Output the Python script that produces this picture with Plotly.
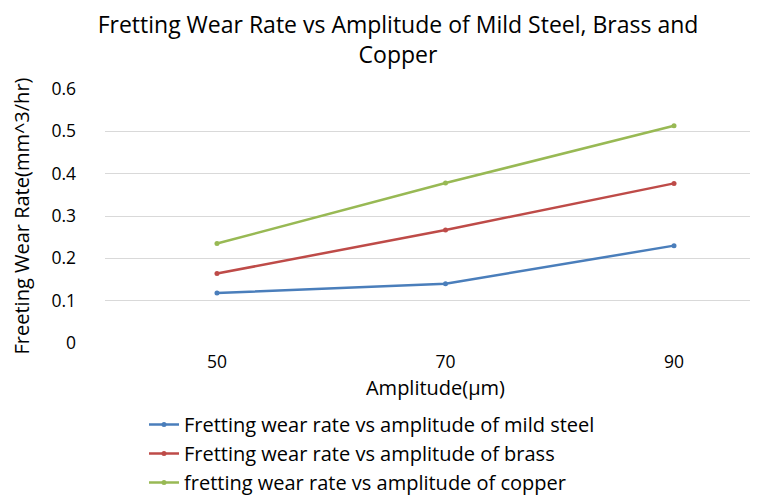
import plotly.graph_objects as go

amplitude = [50, 70, 90]
mild_steel = [0.118, 0.140, 0.230]
brass = [0.164, 0.267, 0.377]
copper = [0.235, 0.378, 0.513]
names = ["Fretting wear rate vs amplitude of mild steel",
         "Fretting wear rate vs amplitude of brass",
         "fretting wear rate vs amplitude of copper"]
colors = ["#4A7EBB", "#BE4B48", "#98B954"]
y_ticks = [0, 0.1, 0.2, 0.3, 0.4, 0.5, 0.6]

FONT = "Open Sans"
L, R, T, B = 97, 0, 81, 166
W, H = 758, 501
pw, ph = W - L - R, H - T - B

fig = go.Figure()
for ys, n, c in zip([mild_steel, brass, copper], names, colors):
    fig.add_trace(go.Scatter(x=amplitude, y=ys, name=n, mode="lines+markers",
                             line=dict(color=c, width=2.5),
                             marker=dict(color=c, size=5)))

fig.update_layout(
    width=W, height=H,
    margin=dict(l=L, r=R, t=T, b=B, autoexpand=False),
    paper_bgcolor="white", plot_bgcolor="white",
    font=dict(family=FONT, color="#000000"),
    title=dict(text="Fretting Wear Rate vs Amplitude of Mild Steel, Brass and<br>Copper",
               x=390/W, xanchor="center", y=1 - 25/H, yanchor="middle",
               font=dict(family=FONT, size=23, color="#000000")),
    xaxis=dict(range=[40.2, 98.05], tickvals=amplitude, ticktext=[str(a) for a in amplitude],
               showgrid=False, zeroline=False, showline=False, ticks="",
               ticklabelstandoff=6,
               tickfont=dict(size=17.5, color="#000000"),
               title=dict(text="Amplitude(µm)", font=dict(size=20, color="#000000"), standoff=9)),
    yaxis=dict(range=[0, 0.6], tickvals=y_ticks, ticktext=[str(v) for v in y_ticks],
               showgrid=True, gridcolor="#D9D9D9", gridwidth=1, zeroline=False,
               showline=False, ticks="", ticklabelstandoff=28,
               tickfont=dict(size=17.5, color="#000000"),
               title=dict(text="Freeting Wear Rate(mm^3/hr)", font=dict(size=20, color="#000000"), standoff=16)),
    legend=dict(x=(136 - L) / pw, y=(H - 397 - B) / ph,
                xanchor="left", yanchor="top", font=dict(size=20, color="#000000"),
                tracegroupgap=0, bgcolor="rgba(0,0,0,0)"),
    showlegend=True,
)
fig.write_html("out.html")
